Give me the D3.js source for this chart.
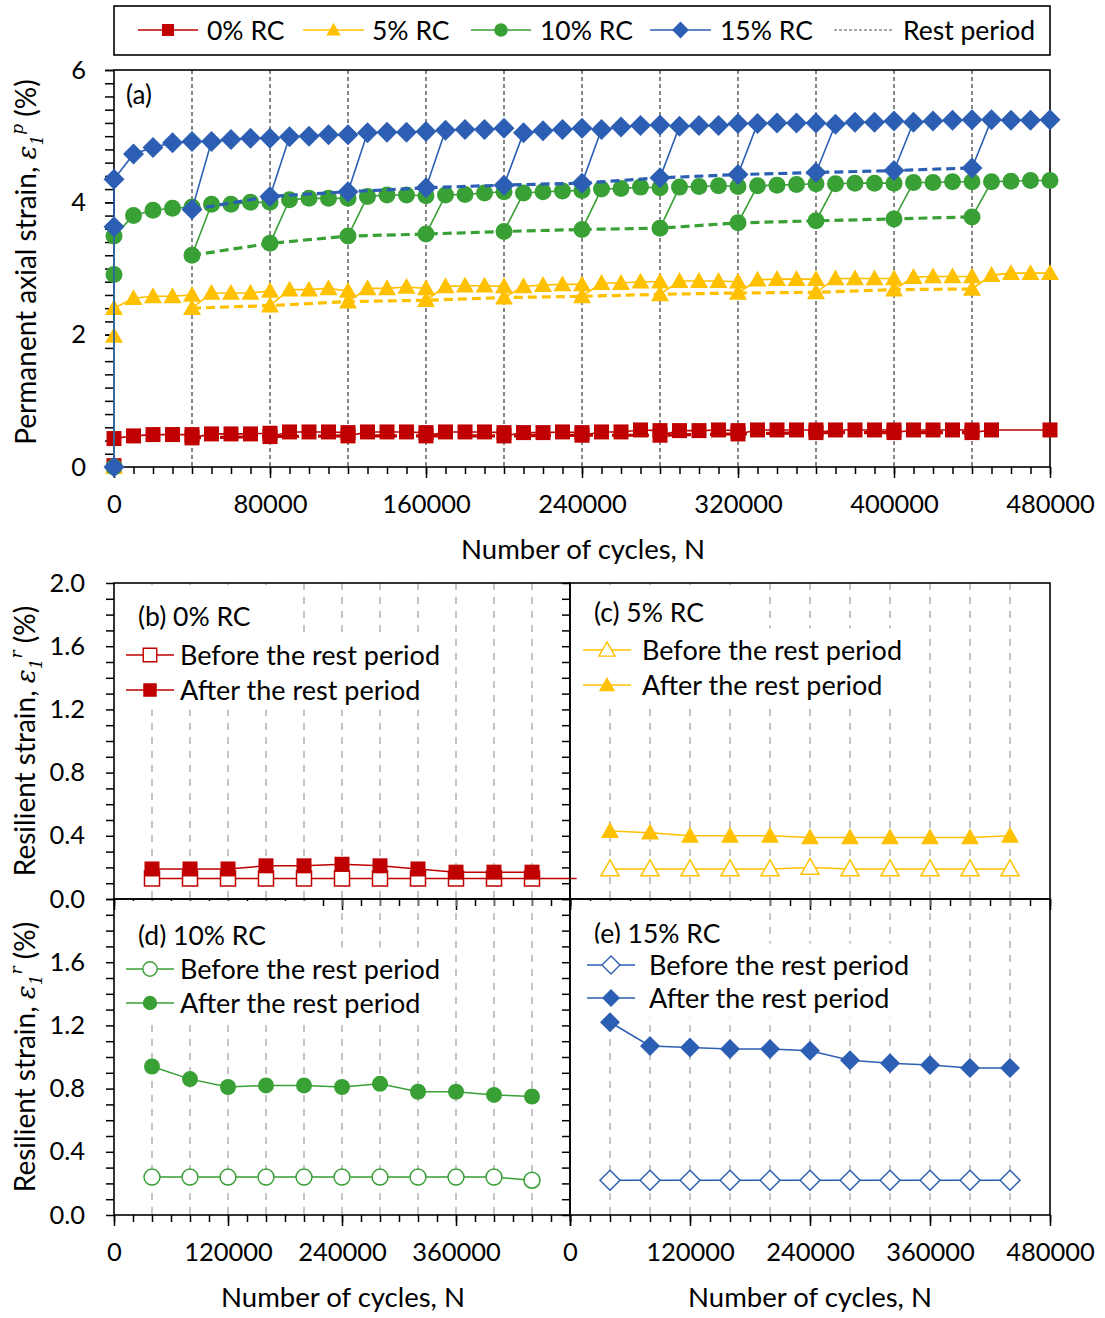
<!DOCTYPE html>
<html>
<head>
<meta charset="utf-8">
<script src="https://cdn.jsdelivr.net/npm/d3@7"></script>
<style>
  body { margin: 0; background: #fff; }
  svg text { font-family: Lato, "Open Sans", sans-serif; fill: #000; }
</style>
</head>
<body>
<svg id="chart" width="1105" height="1318"></svg>
<script>
// ---------- Data ----------
// Loading checkpoints (cycles) and the cycle counts at which each rest period was applied
const cycles = d3.range(10000, 480001, 10000);
const restCycles = d3.range(40000, 440001, 40000);

const rcLabels = ["0% RC", "5% RC", "10% RC", "15% RC"];

// Permanent axial strain (%) at N = 0 (first readings)
const start0 = [0.02, 0.43];
const start5 = [0.0, 1.98, 2.40];
const start10 = [0.0, 2.91, 3.49];
const start15 = [0.0, 3.63, 4.35];

// Permanent axial strain (%) during loading, N = 10000 ... 480000
const load0 = [0.47, 0.49, 0.49, 0.49, 0.50, 0.50, 0.50, 0.51, 0.53, 0.53, 0.53, 0.52,
               0.53, 0.53, 0.53, 0.52, 0.53, 0.53, 0.53, 0.52, 0.52, 0.52, 0.53, 0.52,
               0.53, 0.53, 0.56, 0.55, 0.55, 0.55, 0.56, 0.55, 0.56, 0.56, 0.56, 0.56,
               0.56, 0.56, 0.56, 0.56, 0.56, 0.56, 0.56, 0.56, 0.56, null, null, 0.56];
const load5 = [2.55, 2.58, 2.58, 2.60, 2.63, 2.63, 2.63, 2.66, 2.68, 2.68, 2.70, 2.66,
               2.70, 2.70, 2.72, 2.70, 2.73, 2.74, 2.74, 2.73, 2.73, 2.75, 2.76, 2.76,
               2.78, 2.78, 2.80, 2.80, 2.81, 2.81, 2.81, 2.80, 2.83, 2.84, 2.84, 2.84,
               2.85, 2.85, 2.85, 2.85, 2.87, 2.88, 2.88, 2.88, 2.90, 2.93, 2.93, 2.93];
const load10 = [3.80, 3.88, 3.91, 3.93, 3.97, 3.97, 4.00, 4.00, 4.04, 4.06, 4.06, 4.06,
                4.09, 4.11, 4.11, 4.10, 4.11, 4.12, 4.14, 4.16, 4.14, 4.16, 4.17, 4.18,
                4.20, 4.21, 4.23, 4.22, 4.23, 4.24, 4.25, 4.24, 4.25, 4.26, 4.27, 4.28,
                4.28, 4.29, 4.29, 4.29, 4.30, 4.30, 4.31, 4.31, 4.31, 4.32, 4.33, 4.33];
const load15 = [4.73, 4.83, 4.90, 4.92, 4.92, 4.95, 4.97, 4.97, 4.99, 5.00, 5.02, 5.02,
                5.05, 5.06, 5.06, 5.07, 5.09, 5.10, 5.10, 5.12, 5.05, 5.08, 5.10, 5.12,
                5.10, 5.14, 5.16, 5.17, 5.15, 5.16, 5.16, 5.19, 5.19, 5.20, 5.20, 5.20,
                5.18, 5.21, 5.21, 5.23, 5.21, 5.23, 5.24, 5.25, 5.25, 5.24, 5.24, 5.25];

// Permanent axial strain (%) right after each rest period
const rest0 = [0.44, 0.46, 0.47, 0.47, 0.47, 0.48, 0.48, 0.50, 0.52, 0.52, 0.52];
const rest5 = [2.40, 2.44, 2.50, 2.52, 2.56, 2.58, 2.61, 2.63, 2.64, 2.68, 2.69];
const rest10 = [3.20, 3.38, 3.49, 3.52, 3.56, 3.59, 3.61, 3.69, 3.72, 3.75, 3.78];
const rest15 = [3.89, 4.09, 4.16, 4.22, 4.26, 4.29, 4.37, 4.42, 4.45, 4.48, 4.52];

// Resilient strain (%) before / after each rest period
const beforeB = [0.13, 0.13, 0.13, 0.13, 0.13, 0.13, 0.13, 0.13, 0.13, 0.13, 0.13];
const afterB  = [0.19, 0.19, 0.19, 0.21, 0.21, 0.22, 0.21, 0.19, 0.17, 0.17, 0.17];
const beforeC = [0.19, 0.19, 0.19, 0.19, 0.19, 0.20, 0.19, 0.19, 0.19, 0.19, 0.19];
const afterC  = [0.43, 0.42, 0.40, 0.40, 0.40, 0.39, 0.39, 0.39, 0.39, 0.39, 0.40];
const beforeD = [0.24, 0.24, 0.24, 0.24, 0.24, 0.24, 0.24, 0.24, 0.24, 0.24, 0.22];
const afterD  = [0.94, 0.86, 0.81, 0.82, 0.82, 0.81, 0.83, 0.78, 0.78, 0.76, 0.75];
const beforeE = [0.22, 0.22, 0.22, 0.22, 0.22, 0.22, 0.22, 0.22, 0.22, 0.22, 0.22];
const afterE  = [1.22, 1.07, 1.06, 1.05, 1.05, 1.04, 0.98, 0.96, 0.95, 0.93, 0.93];
// the 0% RC "before" trace runs on a little past the last reading
const tailB = { n: 487000, v: 0.13 };

// Tick values
const topXTicks = d3.range(0, 480001, 80000);
const topXMinor = d3.range(0, 480001, 10000);
const topYTicks = [0, 2, 4, 6];
const topYMinor = d3.range(0, 6.001, 0.2);
const lowXTicks = [0, 120000, 240000, 360000, 480000];
const lowXMinor = d3.range(0, 480001, 20000);
const lowYTicks = [0, 0.4, 0.8, 1.2, 1.6, 2.0];
const lowYMinor = d3.range(0, 2.001, 0.1);

// ---------- Styling ----------
const colors = { red: "#c00000", yellow: "#ffc000", green: "#38a035", blue: "#2c5fb3" };
const series = [
  { label: rcLabels[0], color: colors.red,    shape: "square",   size: 15, start: start0,  load: load0,  rest: rest0 },
  { label: rcLabels[1], color: colors.yellow, shape: "triangle", size: 18, start: start5,  load: load5,  rest: rest5 },
  { label: rcLabels[2], color: colors.green,  shape: "circle",   size: 17, start: start10, load: load10, rest: rest10 },
  { label: rcLabels[3], color: colors.blue,   shape: "diamond",  size: 21, start: start15, load: load15, rest: rest15 }
];

function markerPath(shape, s) {
  switch (shape) {
    case "square":   return `M${-s/2},${-s/2}h${s}v${s}h${-s}Z`;
    case "triangle": return `M0,${-s*0.5}L${s/2},${s*0.38}L${-s/2},${s*0.38}Z`;
    case "circle":   return d3.symbol(d3.symbolCircle, Math.PI * (s/2) * (s/2))();
    case "diamond":  return `M0,${-s/2}L${s/2},0L0,${s/2}L${-s/2},0Z`;
  }
}

const svg = d3.select("#chart");

// ---------- Panel (a): permanent axial strain ----------
const A = { l: 114, r: 1050, t: 70, b: 467 };
const xA = d3.scaleLinear().domain([0, 480000]).range([A.l, A.r]);
const yA = d3.scaleLinear().domain([0, 6]).range([A.b, A.t]);

const gA = svg.append("g");

// rest period markers
gA.selectAll("line.rest").data(restCycles).join("line")
  .attr("x1", d => xA(d)).attr("x2", d => xA(d))
  .attr("y1", A.t).attr("y2", A.b)
  .attr("stroke", "#555").attr("stroke-width", 1.4).attr("stroke-dasharray", "4,3");

// axes
function styleAxis(g) {
  g.select(".domain").remove();
  g.selectAll(".tick line").attr("stroke", "#000").attr("stroke-width", 1.5);
  g.selectAll("text").attr("font-size", 25.5).attr("fill", "#000")
    .style("font-family", 'Lato, "Open Sans", sans-serif');
}
gA.append("g").attr("transform", `translate(0,${A.b})`)
  .call(d3.axisBottom(xA).tickValues(topXMinor).tickSize(7).tickFormat(""))
  .call(styleAxis);
gA.append("g").attr("transform", `translate(0,${A.b})`)
  .call(d3.axisBottom(xA).tickValues(topXTicks).tickSize(11).tickPadding(17).tickFormat(d3.format("d")))
  .call(styleAxis);
gA.append("g").attr("transform", `translate(${A.l},0)`)
  .call(d3.axisLeft(yA).tickValues(topYMinor).tickSize(9).tickFormat(""))
  .call(styleAxis);
gA.append("g").attr("transform", `translate(${A.l},0)`)
  .call(d3.axisLeft(yA).tickValues(topYTicks).tickSize(9).tickPadding(19).tickFormat(d3.format("d")))
  .call(styleAxis);

gA.append("rect").attr("x", A.l).attr("y", A.t).attr("width", A.r - A.l).attr("height", A.b - A.t)
  .attr("fill", "none").attr("stroke", "#000").attr("stroke-width", 1.6);

// build loading segments: each segment starts right after a rest period
function segments(s) {
  const segs = [];
  let cur = s.start.map(v => ({ n: 0, v }));
  cycles.forEach((n, i) => {
    if (s.load[i] != null) cur.push({ n, v: s.load[i] });
    const r = restCycles.indexOf(n);
    if (r >= 0) { segs.push(cur); cur = [{ n, v: s.rest[r] }]; }
  });
  segs.push(cur);
  return segs;
}
const lineA = d3.line().x(d => xA(d.n)).y(d => yA(d.v));

series.forEach(s => {
  const g = gA.append("g");
  const segs = segments(s);
  g.selectAll("path.seg").data(segs).join("path")
    .attr("d", lineA).attr("fill", "none").attr("stroke", s.color).attr("stroke-width", 1.6);
  const restPts = restCycles.map((n, i) => ({ n, v: s.rest[i] }));
  g.append("path").attr("d", lineA(restPts)).attr("fill", "none")
    .attr("stroke", s.color).attr("stroke-width", 3.2).attr("stroke-dasharray", "9,5");
  g.selectAll("path.mk").data(segs.flat()).join("path")
    .attr("transform", d => `translate(${xA(d.n)},${yA(d.v)})`)
    .attr("d", markerPath(s.shape, s.size)).attr("fill", s.color);
});

gA.append("text").attr("x", 126).attr("y", 104).attr("font-size", 26).text("(a)");

// rotated strain axis title with italic epsilon, subscript 1 and a superscript
function strainLabel(g, x, y, main, sup) {
  const t = g.append("text").attr("transform", `translate(${x},${y}) rotate(-90)`)
    .attr("text-anchor", "middle").attr("font-size", 28);
  const serif = "'DejaVu Serif', serif";
  t.append("tspan").text(main);
  t.append("tspan").attr("font-style", "italic").attr("font-family", serif).attr("font-size", 26).text("ε");
  t.append("tspan").attr("font-style", "italic").attr("font-family", serif).attr("font-size", 17).attr("dy", 7).text("1");
  t.append("tspan").attr("font-style", "italic").attr("font-family", serif).attr("font-size", 17).attr("dy", -20).text(sup);
  t.append("tspan").attr("dy", 13).text(" (%)");
  return t;
}
strainLabel(svg, 36, 262, "Permanent axial strain, ", "p");
svg.append("text").attr("x", 583).attr("y", 559).attr("text-anchor", "middle").attr("font-size", 27.5)
  .text("Number of cycles, N");

// legend of panel (a)
const legA = svg.append("g");
legA.append("rect").attr("x", 114).attr("y", 6).attr("width", 936).attr("height", 49)
  .attr("fill", "#fff").attr("stroke", "#000").attr("stroke-width", 1.6);
const legItems = [
  { s: series[0], x0: 138, x1: 198, tx: 207 },
  { s: series[1], x0: 303, x1: 364, tx: 372 },
  { s: series[2], x0: 471, x1: 531, tx: 540 },
  { s: series[3], x0: 650, x1: 711, tx: 720 }
];
legItems.forEach(it => {
  legA.append("line").attr("x1", it.x0).attr("x2", it.x1).attr("y1", 30).attr("y2", 30)
    .attr("stroke", it.s.color).attr("stroke-width", 1.6);
  legA.append("path").attr("transform", `translate(${(it.x0 + it.x1) / 2},30)`)
    .attr("d", markerPath(it.s.shape, it.s.size * 0.8)).attr("fill", it.s.color);
  legA.append("text").attr("x", it.tx).attr("y", 39.5).attr("font-size", 26.5).text(it.s.label);
});
legA.append("line").attr("x1", 834).attr("x2", 893).attr("y1", 30).attr("y2", 30)
  .attr("stroke", "#555").attr("stroke-width", 1.2).attr("stroke-dasharray", "3,2");
legA.append("text").attr("x", 903).attr("y", 39.5).attr("font-size", 26.5).text("Rest period");

// ---------- Panels (b)-(e): resilient strain ----------
const panels = [
  { id: "b", title: "(b) 0% RC",  color: colors.red,    shape: "square",   size: 15, before: beforeB, after: afterB,
    l: 114, r: 570, t: 583, b: 899, yLabels: true,  xLabels: false, tail: tailB, ty: 626, ly1: 655, ly2: 690, lx: 0, tx: 0 },
  { id: "c", title: "(c) 5% RC",  color: colors.yellow, shape: "triangle", size: 18, before: beforeC, after: afterC,
    l: 570, r: 1050, t: 583, b: 899, yLabels: false, xLabels: false, ty: 622, ly1: 650, ly2: 685, lx: 1, tx: 5 },
  { id: "d", title: "(d) 10% RC", color: colors.green,  shape: "circle",   size: 16, before: beforeD, after: afterD,
    l: 114, r: 570, t: 899, b: 1215, yLabels: true,  xLabels: true, ty: 945, ly1: 969, ly2: 1003, lx: 0, tx: 0 },
  { id: "e", title: "(e) 15% RC", color: colors.blue,   shape: "diamond",  size: 20, before: beforeE, after: afterE,
    l: 570, r: 1050, t: 899, b: 1215, yLabels: false, xLabels: true, ty: 943, ly1: 965, ly2: 998, lx: 5, tx: 8 }
];

// frames and gridlines first, then ticks, then data
panels.forEach(p => {
  p.x = d3.scaleLinear().domain([0, 480000]).range([p.l, p.r]);
  p.y = d3.scaleLinear().domain([0, 2]).range([p.b, p.t]);
  p.g = svg.append("g");
  p.g.selectAll("line.grid").data(restCycles).join("line")
    .attr("x1", d => p.x(d)).attr("x2", d => p.x(d)).attr("y1", p.t).attr("y2", p.b)
    .attr("stroke", "#a6a6a6").attr("stroke-width", 1.3).attr("stroke-dasharray", "7,7");
});

panels.forEach(p => {
  const g = p.g;
  // white boxes behind panel title and legend
  const titleT = g.append("text").attr("x", p.l + 24).attr("y", p.ty).attr("font-size", 26.5).text(p.title);
  const tb = titleT.node().getBBox();
  g.insert("rect", "text").attr("x", p.l + 4).attr("y", p.t + 2).attr("width", tb.x + tb.width + 40 - (p.l + 4))
    .attr("height", tb.y + tb.height + 2 - (p.t + 2)).attr("fill", "#fff");

  const leg = g.append("g");
  const entries = [
    { text: "Before the rest period", y: p.ly1, open: true },
    { text: "After the rest period",  y: p.ly2, open: false }
  ];
  const legBg = leg.append("rect").attr("fill", "#fff");
  const x0 = p.l + 12 + p.lx;
  entries.forEach(e => {
    leg.append("line").attr("x1", x0).attr("x2", x0 + 48).attr("y1", e.y).attr("y2", e.y)
      .attr("stroke", p.color).attr("stroke-width", 1.5);
    leg.append("path").attr("transform", `translate(${x0 + 24},${e.y})`)
      .attr("d", markerPath(p.shape, p.size * 0.9))
      .attr("fill", e.open ? "#fff" : p.color).attr("stroke", p.color).attr("stroke-width", e.open ? 1.4 : 0);
    leg.append("text").attr("x", x0 + 54 + p.tx).attr("y", e.y + 9.5).attr("font-size", 27).text(e.text);
  });
  const lb = leg.node().getBBox();
  legBg.attr("x", lb.x - 4).attr("y", lb.y - 4).attr("width", lb.width + 14).attr("height", lb.height + 8);
});

panels.forEach(p => {
  const g = p.g;
  // y axis
  g.append("g").attr("transform", `translate(${p.l},0)`)
    .call(d3.axisLeft(p.y).tickValues(lowYMinor).tickSize(8).tickFormat(""))
    .call(styleAxis);
  if (p.yLabels) {
    const vals = p.id === "d" ? lowYTicks.filter(v => v < 2) : lowYTicks;
    g.append("g").attr("transform", `translate(${p.l},0)`)
      .call(d3.axisLeft(p.y).tickValues(vals).tickSize(0).tickPadding(29).tickFormat(d3.format(".1f")))
      .call(styleAxis);
  }
  // x axis
  g.append("g").attr("transform", `translate(0,${p.b})`)
    .call(d3.axisBottom(p.x).tickValues(lowXMinor).tickSize(7).tickFormat(""))
    .call(styleAxis);
  const major = g.append("g").attr("transform", `translate(0,${p.b})`)
    .call(d3.axisBottom(p.x).tickValues(lowXTicks).tickSize(11).tickPadding(17)
      .tickFormat(p.xLabels ? d3.format("d") : ""))
    .call(styleAxis);
  if (p.id === "d") major.selectAll(".tick text").filter(d => d === 480000).remove();

  g.append("rect").attr("x", p.l).attr("y", p.t).attr("width", p.r - p.l).attr("height", p.b - p.t)
    .attr("fill", "none").attr("stroke", "#000").attr("stroke-width", 1.6);
});

panels.forEach(p => {
  const g = p.g;
  const line = d3.line().x(d => p.x(d.n)).y(d => p.y(d.v));
  const before = restCycles.map((n, i) => ({ n, v: p.before[i] }));
  const after = restCycles.map((n, i) => ({ n, v: p.after[i] }));
  const beforeLine = p.tail ? before.concat([p.tail]) : before;
  g.append("path").attr("d", line(beforeLine)).attr("fill", "none").attr("stroke", p.color).attr("stroke-width", 1.5);
  g.append("path").attr("d", line(after)).attr("fill", "none").attr("stroke", p.color).attr("stroke-width", 1.5);
  g.selectAll("path.open").data(before).join("path")
    .attr("transform", d => `translate(${p.x(d.n)},${p.y(d.v)})`)
    .attr("d", markerPath(p.shape, p.size)).attr("fill", "#fff")
    .attr("stroke", p.color).attr("stroke-width", 1.5);
  g.selectAll("path.filled").data(after).join("path")
    .attr("transform", d => `translate(${p.x(d.n)},${p.y(d.v)})`)
    .attr("d", markerPath(p.shape, p.size)).attr("fill", p.color);
});

strainLabel(svg, 35, 741, "Resilient strain, ", "r");
strainLabel(svg, 35, 1057, "Resilient strain, ", "r");
svg.append("text").attr("x", 343).attr("y", 1307).attr("text-anchor", "middle").attr("font-size", 27.5)
  .text("Number of cycles, N");
svg.append("text").attr("x", 810).attr("y", 1307).attr("text-anchor", "middle").attr("font-size", 27.5)
  .text("Number of cycles, N");
</script>
</body>
</html>
